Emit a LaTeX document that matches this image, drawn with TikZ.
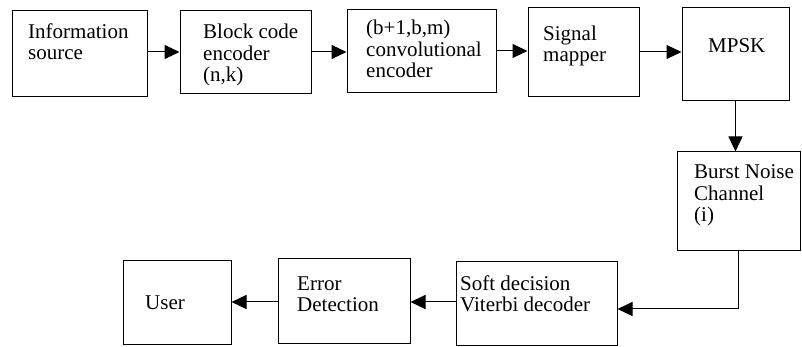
\documentclass[tikz,border=0pt]{standalone}
\usepackage{fontspec}
\setmainfont{Liberation Serif}
\usetikzlibrary{arrows.meta}
\begin{document}
\begin{tikzpicture}[x=1pt,y=1pt,
  box/.style={draw,line width=1pt,inner sep=0pt},
  lbl/.style={anchor=base west,inner sep=0pt,align=left,font=\fontsize{21}{21.5}\selectfont},
  arr/.style={line width=1pt,-{Triangle[length=15pt,width=14pt]}}]
\useasboundingbox (0,0) rectangle (802,347);
% boxes (centers in px, y flipped)
\node[box,minimum width=135,minimum height=86] (b1) at (79.5,293) {};
\node[box,minimum width=131,minimum height=83] (b2) at (245.5,294.5) {};
\node[box,minimum width=149,minimum height=83] (b3) at (421.5,295.5) {};
\node[box,minimum width=111,minimum height=89] (b4) at (583.5,294.5) {};
\node[box,minimum width=107,minimum height=93] (b5) at (735.5,292.5) {};
\node[box,minimum width=123,minimum height=99] (b6) at (738.5,145.5) {};
\node[box,minimum width=161,minimum height=84] (b7) at (536.5,43) {};
\node[box,minimum width=132,minimum height=85] (b8) at (344,45.5) {};
\node[box,minimum width=108,minimum height=84] (b9) at (177,44) {};
% texts (anchored at the baseline of the last line)
\node[lbl] (t1) at (28,287) {Information\\source};
\node[lbl] (t2) at (203,265) {Block code\\encoder\\(n,k)};
\node[lbl] (t3) at (366,269) {(b+1,b,m)\\convolutional\\encoder};
\node[lbl] (t4) at (543,285) {Signal\\mapper};
\node[lbl] (t5) at (708,294) {MPSK};
\node[lbl] (t6) at (694,125) {Burst Noise\\Channel\\(i)};
\node[lbl] (t7) at (460,35) {Soft decision\\Viterbi decoder};
\node[lbl] (t8) at (297,35) {Error\\Detection};
\node[lbl] (t9) at (145,37) {User};
% connectors
\draw[arr] (b1.east |- 0,295) -- (b2.west |- 0,295);
\draw[arr] (b2.east |- 0,295) -- (b3.west |- 0,295);
\draw[arr] (b3.east |- 0,296) -- (b4.west |- 0,296);
\draw[arr] (b4.east |- 0,295) -- (b5.west |- 0,295);
\draw[arr] (b5.south) -- (b5.south |- b6.north);
\draw[arr] (b6.south) |- (b7.east |- 0,38);
\draw[arr] (b7.west |- 0,45) -- (b8.east |- 0,45);
\draw[arr] (b8.west |- 0,45) -- (b9.east |- 0,45);
\end{tikzpicture}
\end{document}
